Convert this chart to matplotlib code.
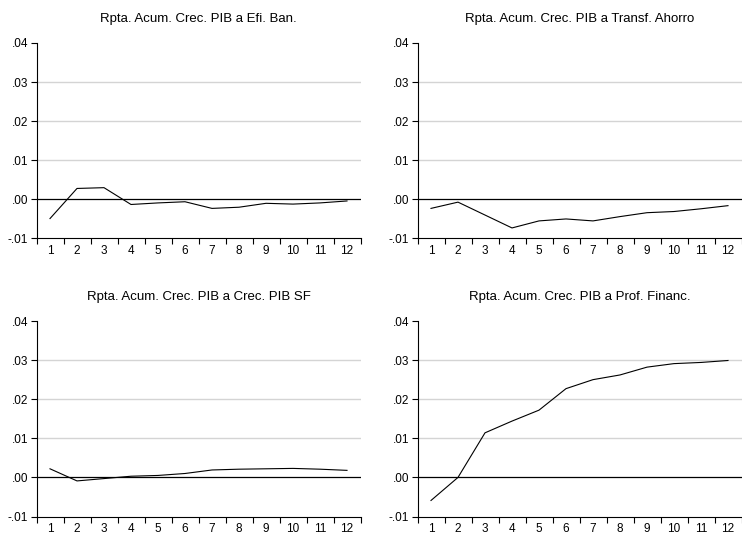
import matplotlib
matplotlib.use('Agg')
import matplotlib.pyplot as plt
from matplotlib.ticker import FixedLocator, FuncFormatter

plt.rcParams['font.family'] = ['Liberation Sans', 'DejaVu Sans']

periods = list(range(1, 13))

titles = [
    'Rpta. Acum. Crec. PIB a Efi. Ban.',
    'Rpta. Acum. Crec. PIB a Transf. Ahorro',
    'Rpta. Acum. Crec. PIB a Crec. PIB SF',
    'Rpta. Acum. Crec. PIB a Prof. Financ.',
]

efi_ban = [-0.0049, 0.0028, 0.0030, -0.0013, -0.0009, -0.0006,
           -0.0023, -0.0020, -0.0010, -0.0012, -0.0009, -0.0004]
transf_ahorro = [-0.0023, -0.0007, -0.0040, -0.0073, -0.0055, -0.0050,
                 -0.0055, -0.0044, -0.0034, -0.0031, -0.0024, -0.0016]
crec_pib_sf = [0.0022, -0.0009, -0.0003, 0.0003, 0.0005, 0.0010,
               0.0019, 0.0021, 0.0022, 0.0023, 0.0021, 0.0018]
prof_financ = [-0.0059, 0.0000, 0.0114, 0.0144, 0.0172, 0.0227,
               0.0250, 0.0262, 0.0282, 0.0291, 0.0294, 0.0299]

series = [efi_ban, transf_ahorro, crec_pib_sf, prof_financ]

y_ticks = [-0.01, 0.00, 0.01, 0.02, 0.03, 0.04]
grid_levels = [0.01, 0.02, 0.03]


def fmt(v, pos):
    s = '%.2f' % v
    s = s.replace('0.', '.')
    if s == '-.00':
        s = '.00'
    return s


fig = plt.figure(figsize=(7.42, 5.34), dpi=100)

W = 742.0
H = 534.0
# left px, top px of each panel
boxes = [(36.5, 43), (417.5, 43), (36.5, 321), (417.5, 321)]
aw, ah = 324.0, 195.5

for (lx, ty), title, ys in zip(boxes, titles, series):
    ax = fig.add_axes([lx / W, 1 - (ty + ah) / H, aw / W, ah / H])
    for g in grid_levels:
        ax.axhline(g, color='#d4d4d4', lw=1.0, zorder=1)
    ax.axhline(0, color='black', lw=0.9, zorder=2)
    ax.plot(periods, ys, color='black', lw=0.8, zorder=3)

    ax.set_xlim(0.5, 12.5)
    ax.set_ylim(-0.01, 0.04)
    ax.set_yticks(y_ticks)
    ax.yaxis.set_major_formatter(FuncFormatter(fmt))
    ax.set_xticks(periods)
    ax.set_xticklabels([str(p) for p in periods])
    ax.xaxis.set_minor_locator(FixedLocator([p + 0.5 for p in range(0, 13)]))
    ax.tick_params(axis='x', which='major', length=0, labelsize=8.5, pad=5)
    ax.tick_params(axis='x', which='minor', length=4, width=0.8, direction='out')
    ax.tick_params(axis='y', which='major', length=4, width=0.8, labelsize=8.5, pad=2)

    for side in ['top', 'right']:
        ax.spines[side].set_visible(False)
    ax.spines['left'].set_linewidth(0.8)
    ax.spines['bottom'].set_linewidth(0.8)

    ax.set_title(title, fontsize=9.5, pad=15)

fig.savefig('out.png', dpi=100)
